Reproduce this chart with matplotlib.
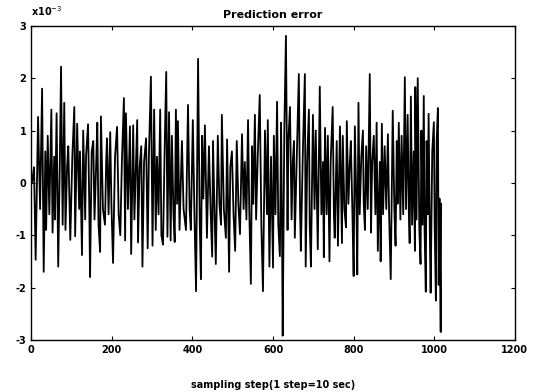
import matplotlib
matplotlib.use('Agg')
import matplotlib.pyplot as plt

# sample index and prediction error (units of 1e-3)
steps = [2, 7, 11, 17, 22, 27, 31, 35, 37, 41, 45, 50, 53, 57, 59, 63, 67, 71, 74, 78,
         82, 85, 89, 92, 97, 102, 107, 109, 114, 119, 121, 126, 129, 134, 136, 141, 144, 146, 150, 154,
         157, 161, 164, 167, 171, 173, 178, 183, 186, 188, 192, 196, 199, 203, 208, 213, 217, 221, 225, 230,
         233, 235, 240, 245, 248, 253, 256, 263, 265, 269, 273, 276, 280, 285, 289, 292, 297, 301, 305, 309,
         312, 316, 320, 323, 327, 331, 335, 338, 342, 346, 349, 353, 356, 359, 362, 364, 368, 374, 378, 384,
         389, 393, 396, 401, 405, 409, 414, 418, 421, 424, 427, 431, 436, 441, 445, 449, 451, 455, 458, 463,
         467, 471, 473, 478, 483, 486, 491, 494, 498, 502, 506, 510, 514, 518, 523, 527, 530, 534, 538, 541,
         545, 548, 551, 555, 558, 562, 567, 571, 575, 580, 585, 587, 591, 595, 600, 602, 606, 610, 613, 617,
         620, 622, 624, 628, 632, 636, 638, 642, 646, 649, 652, 654, 659, 664, 667, 669, 674, 679, 681, 685,
         689, 691, 694, 699, 703, 706, 711, 716, 720, 724, 726, 729, 733, 736, 740, 743, 748, 751, 753, 758,
         761, 766, 771, 773, 777, 781, 783, 787, 790, 793, 797, 800, 803, 807, 809, 812, 815, 819, 823, 825,
         828, 831, 835, 840, 843, 846, 850, 854, 857, 860, 865, 867, 870, 873, 877, 881, 885, 888, 892, 897,
         901, 904, 907, 909, 912, 916, 919, 923, 927, 930, 934, 937, 939, 942, 945, 949, 952, 953, 956, 959,
         963, 966, 968, 971, 974, 976, 979, 981, 984, 986, 989, 991, 995, 999, 1001, 1004, 1006, 1009, 1011, 1013,
         1016, 1017]
err_milli = [0.0, 0.3, -1.47, 1.26, -0.5, 1.8, -1.7, 0.6, -0.9, 0.9, -0.6, 1.4, -0.95, 0.5, -0.7, 1.33, -1.6, 0.4, 2.22, -0.8,
             1.53, -0.9, 0.3, 0.7, -1.09, 0.5, 1.45, -1.02, 1.13, -0.5, 0.6, -1.38, 1.0, -0.7, 0.5, 1.12, -0.4, -1.8, 0.6, 0.8,
             -0.7, 0.3, 1.15, -0.8, -1.32, 1.27, -0.5, -0.8, 0.4, 0.85, -0.6, 0.97, -0.4, -1.53, 0.5, 1.07, -0.6, -1.0, 0.4, 1.62,
             -1.1, 1.33, -0.5, 1.08, -1.36, 1.1, -0.7, 1.2, -1.14, 0.3, 0.7, -1.6, 0.4, 0.85, -1.25, 0.5, 2.03, -1.2, 1.4, -0.9,
             0.5, -0.6, 1.4, -1.0, -1.18, 0.6, 2.12, -1.03, 1.35, -1.1, 0.9, -0.6, -1.13, 1.4, -0.4, 1.18, -0.9, 0.8, -0.5, -0.9,
             1.49, -0.5, -0.9, 1.2, -0.6, -2.07, 2.37, -0.7, -1.84, 0.9, -0.3, 1.1, -1.05, 0.7, -0.5, -1.41, 0.8, -0.6, -1.55, 0.9,
             -0.4, -0.8, 1.3, -0.5, -1.05, 0.83, -1.7, 0.3, 0.6, -0.6, -1.3, 0.8, -0.4, -0.98, 0.93, -0.5, 0.4, -0.7, 1.2, -0.5,
             -1.93, 0.7, -0.4, 1.3, -0.7, 0.5, 1.68, -0.8, -2.07, 1.0, -0.6, 1.2, -1.6, 0.5, -1.62, 0.9, -0.6, 1.55, -0.8, -1.4,
             1.15, -0.6, -2.92, 1.0, 2.81, -0.9, 0.8, 1.45, -0.7, 0.4, 0.8, -1.05, 0.5, 2.08, -0.5, -1.3, 0.6, 2.08, -1.6, 0.5,
             1.4, -0.8, -1.6, 1.3, -0.5, 1.0, -1.27, 1.84, -0.6, 0.4, -1.42, 1.05, -0.6, 0.9, -1.5, 0.4, 1.45, -0.6, -1.05, 0.8,
             -1.2, 1.08, -1.15, 0.9, -0.5, -0.85, 1.18, -0.4, 0.3, 0.8, -0.6, -1.78, 1.08, -0.5, -1.75, 1.53, -0.6, 0.5, 1.0, -0.4,
             -0.9, 0.7, -0.5, 2.08, -0.95, 0.4, 0.9, -0.6, 1.15, -1.3, 0.4, -1.5, 1.13, -0.6, 0.7, -0.5, 0.93, -0.6, -1.84, 1.38,
             -0.5, -1.2, 0.8, -0.4, 1.15, -0.7, 0.9, -0.6, 2.02, -0.5, 1.3, -0.6, -1.15, 1.65, -0.8, 0.6, -1.3, 1.83, -0.7, 2.0,
             -0.9, -1.55, 1.0, -0.8, 1.66, -0.9, -2.08, 0.8, -0.6, 1.32, -1.0, -2.1, 0.6, 1.16, -0.8, -2.25, 0.8, 1.43, -1.95, -0.3,
             -2.85, -0.4]

plt.rcParams['axes.unicode_minus'] = False
plt.rcParams['font.family'] = 'DejaVu Sans'

fig = plt.figure(figsize=(5.38, 3.92), dpi=100)
ax = fig.add_axes([0.058, 0.133, 0.899, 0.801])
ax.plot(steps, err_milli, color='black', linewidth=1.3)

ax.set_xlim(0, 1200)
ax.set_ylim(-3, 3)
ax.set_xticks(range(0, 1201, 200))
ax.set_yticks(range(-3, 4))
ax.tick_params(direction='in', top=True, right=True, labelsize=7, length=3, width=0.8)
for lab in ax.get_xticklabels() + ax.get_yticklabels():
    lab.set_fontweight('bold')
for s in ax.spines.values():
    s.set_linewidth(1.0)

ax.set_title('Prediction error', fontsize=8, fontweight='bold', pad=6)
ax.set_xlabel('sampling step(1 step=10 sec)', fontsize=7, fontweight='bold', labelpad=18)
ax.text(0.0, 1.025, r'x10$^{-3}$', transform=ax.transAxes, fontsize=7, fontweight='bold',
        ha='left', va='bottom')

fig.savefig('out.png', dpi=100)
